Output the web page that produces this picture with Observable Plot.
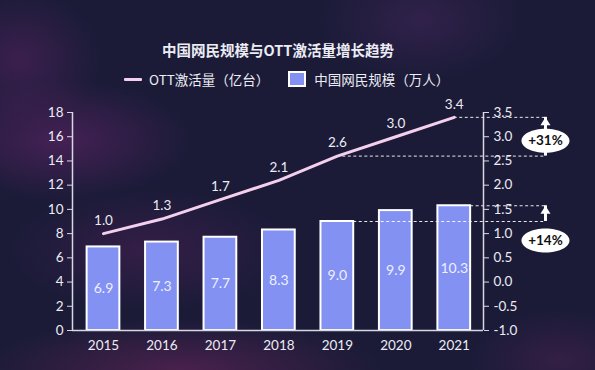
<!DOCTYPE html>
<html>
<head>
<meta charset="utf-8">
<script src="https://cdn.jsdelivr.net/npm/d3@7"></script>
<script src="https://cdn.jsdelivr.net/npm/@observablehq/plot@0.6"></script>
<style>
  html, body { margin: 0; padding: 0; }
  body {
    width: 595px; height: 370px; overflow: hidden; position: relative;
    font-family: "Lato", "Noto Sans CJK SC", sans-serif;
    background:
      radial-gradient(ellipse 130px 60px at 60px 140px, rgba(120,40,120,0.45), rgba(120,40,120,0) 100%),
      radial-gradient(ellipse 80px 70px at 20px 60px, rgba(120,40,120,0.35), rgba(120,40,120,0) 100%),
      radial-gradient(ellipse 140px 60px at 150px 250px, rgba(100,35,100,0.35), rgba(100,35,100,0) 100%),
      radial-gradient(ellipse 200px 50px at 180px 370px, rgba(130,40,100,0.45), rgba(130,40,100,0) 100%),
      radial-gradient(ellipse 100px 60px at 420px 20px, rgba(90,45,110,0.35), rgba(90,45,110,0) 100%),
      radial-gradient(ellipse 90px 50px at 560px 360px, rgba(110,40,100,0.3), rgba(110,40,100,0) 100%),
      #1b1b38;
  }
  #title {
    position: absolute; left: 0; width: 556px; top: 41px; height: 18px; line-height: 18px;
    text-align: center; color: #ececf4; font-size: 14.5px; font-weight: bold;
    font-family: "Noto Sans CJK SC", sans-serif;
  }
  #legend {
    position: absolute; left: 124px; top: 70px; height: 18px; display: flex; align-items: center;
    color: #ececf4; font-size: 13.5px; font-family: "Noto Sans CJK SC", sans-serif;
  }
  .sw-line { width: 18px; height: 3px; background: #f5d0ee; margin-right: 7px; border-radius: 1px; }
  .sw-box { width: 14px; height: 12px; background: #8291f2; border: 2px solid #fff; margin-left: 19px; margin-right: 8px; }
  #chart { position: absolute; left: 0; top: 95px; }
</style>
</head>
<body>
<div id="title"></div>
<div id="legend"></div>
<div id="chart"></div>
<script>
const title = "中国网民规模与OTT激活量增长趋势";
const seriesLine = "OTT激活量（亿台）";
const seriesBar = "中国网民规模（万人）";
const years = [2015, 2016, 2017, 2018, 2019, 2020, 2021];
const users = [6.9, 7.3, 7.7, 8.3, 9.0, 9.9, 10.3];
const ott = [1.0, 1.3, 1.7, 2.1, 2.6, 3.0, 3.4];
const leftTicks = [0, 2, 4, 6, 8, 10, 12, 14, 16, 18];
const rightTicks = [-1.0, -0.5, 0.0, 0.5, 1.0, 1.5, 2.0, 2.5, 3.0, 3.5];

document.getElementById("title").textContent = title;
const lg = document.getElementById("legend");
lg.innerHTML = `<div class="sw-line"></div><span>${seriesLine}</span><div class="sw-box"></div><span>${seriesBar}</span>`;

const data = years.map((y, i) => ({year: y, users: users[i], ott: ott[i]}));
// right axis (-1 .. 3.5) mapped onto left axis (0 .. 18)
const rMin = rightTicks[0], rMax = rightTicks[rightTicks.length - 1];
const lMax = leftTicks[leftTicks.length - 1];
const toLeft = v => (v - rMin) / (rMax - rMin) * lMax;
const toRight = y => y / lMax * (rMax - rMin) + rMin;

const xDomain = [years[0] - 0.53, years[years.length - 1] + 0.5];
const half = 0.28;
const annoX = years[years.length - 1] + 1.56;

const i19 = years.indexOf(2019), i21 = years.indexOf(2021);
const dashes = [
  {x1: years[i19], x2: annoX, y: toLeft(ott[i19])},
  {x1: years[i21], x2: annoX, y: toLeft(ott[i21])},
  {x1: years[i19] + half, x2: annoX, y: users[i19]},
  {x1: years[i21] + half, x2: annoX, y: users[i21]}
];
const pctOtt = Math.round((ott[i21] / ott[i19] - 1) * 100);
const pctUsers = Math.round((users[i21] / users[i19] - 1) * 100);
const arrows = [
  {from: toLeft(ott[i19]), to: toLeft(ott[i21]), label: "+" + pctOtt + "%", ly: (toLeft(ott[i19]) + toLeft(ott[i21])) / 2, ldy: 4},
  {from: users[i19], to: users[i21], label: "+" + pctUsers + "%", ly: users[i19], ldy: 19}
];

const ellipse = {draw(ctx) {
  const rx = 24, ry = 12, k = 0.5523;
  ctx.moveTo(rx, 0);
  ctx.bezierCurveTo(rx, ry * k, rx * k, ry, 0, ry);
  ctx.bezierCurveTo(-rx * k, ry, -rx, ry * k, -rx, 0);
  ctx.bezierCurveTo(-rx, -ry * k, -rx * k, -ry, 0, -ry);
  ctx.bezierCurveTo(rx * k, -ry, rx, -ry * k, rx, 0);
  ctx.closePath();
}};
const head = {draw(ctx) {
  ctx.moveTo(0, 0); ctx.lineTo(5, 8); ctx.lineTo(-5, 8); ctx.closePath();
}};

const shift = (sel) => (index, scales, values, dims, ctx, next) => {
  const g = next(index, scales, values, dims, ctx);
  d3.select(g).selectAll(sel).attr("transform", (i) => `translate(${values.x[i]},${values.y[i] + arrows[i].ldy})`);
  return g;
};

const txt = "#ececf4";
const chart = Plot.plot({
  width: 595,
  height: 275,
  marginTop: 17,
  marginBottom: 40,
  marginLeft: 72,
  marginRight: 112,
  style: {background: "transparent", color: txt, fontFamily: "Lato, 'Noto Sans CJK SC', sans-serif", overflow: "visible"},
  x: {type: "linear", domain: xDomain},
  y: {domain: [0, lMax]},
  marks: [
    Plot.rect(data, {x1: d => d.year - half, x2: d => d.year + half, y1: 0, y2: "users",
      fill: "#8291f2", stroke: "#ffffff", strokeWidth: 2}),
    Plot.text(data, {x: "year", y: d => d.users / 2, text: d => d.users.toFixed(1),
      fill: "#eef0ff", fontSize: 14}),
    Plot.ruleY(dashes, {y: "y", x1: "x1", x2: "x2", stroke: "#ffffff", strokeWidth: 1, strokeDasharray: "3,2.5", strokeOpacity: 0.9}),
    Plot.line(data, {x: "year", y: d => toLeft(d.ott), stroke: "#f5d0ee", strokeWidth: 3, strokeLinecap: "round"}),
    Plot.text(data, {x: "year", y: d => toLeft(d.ott), text: d => d.ott.toFixed(1),
      dy: -13, fill: txt, fontSize: 13.5}),
    Plot.ruleX(arrows, {x: () => annoX, y1: "from", y2: d => d.to, stroke: "#ffffff", strokeWidth: 3}),
    Plot.dot(arrows, {x: () => annoX, y: "to", symbol: head, fill: "#ffffff", stroke: null, r: 5}),
    Plot.dot(arrows, {x: () => annoX, y: "ly", symbol: ellipse, fill: "#ffffff", stroke: null, r: 10, render: shift("path")}),
    Plot.text(arrows, {x: () => annoX, y: "ly", text: "label", fill: "#111111", fontWeight: "bold", fontSize: 13.5, render: shift("text")}),
    Plot.ruleY([0], {stroke: "#d8d8e4", strokeWidth: 1.5}),
    Plot.ruleX([xDomain[0]], {stroke: "#d8d8e4", strokeWidth: 1.5}),
    Plot.ruleX([xDomain[1]], {stroke: "#d8d8e4", strokeWidth: 1.5}),
    Plot.axisY({anchor: "left", ticks: leftTicks, tickSize: 5, tickPadding: 4, fontSize: 13.5, stroke: "#d8d8e4", color: txt}),
    Plot.axisY({anchor: "right", ticks: rightTicks.map(toLeft), tickFormat: d => toRight(d).toFixed(1),
      tickSize: 5, tickPadding: 5, fontSize: 13.5, stroke: "#d8d8e4", color: txt}),
    Plot.axisX({ticks: years, tickFormat: d => String(d), tickSize: 0, tickPadding: 10, fontSize: 13.5, color: txt})
  ]
});
document.getElementById("chart").appendChild(chart);
</script>
</body>
</html>
